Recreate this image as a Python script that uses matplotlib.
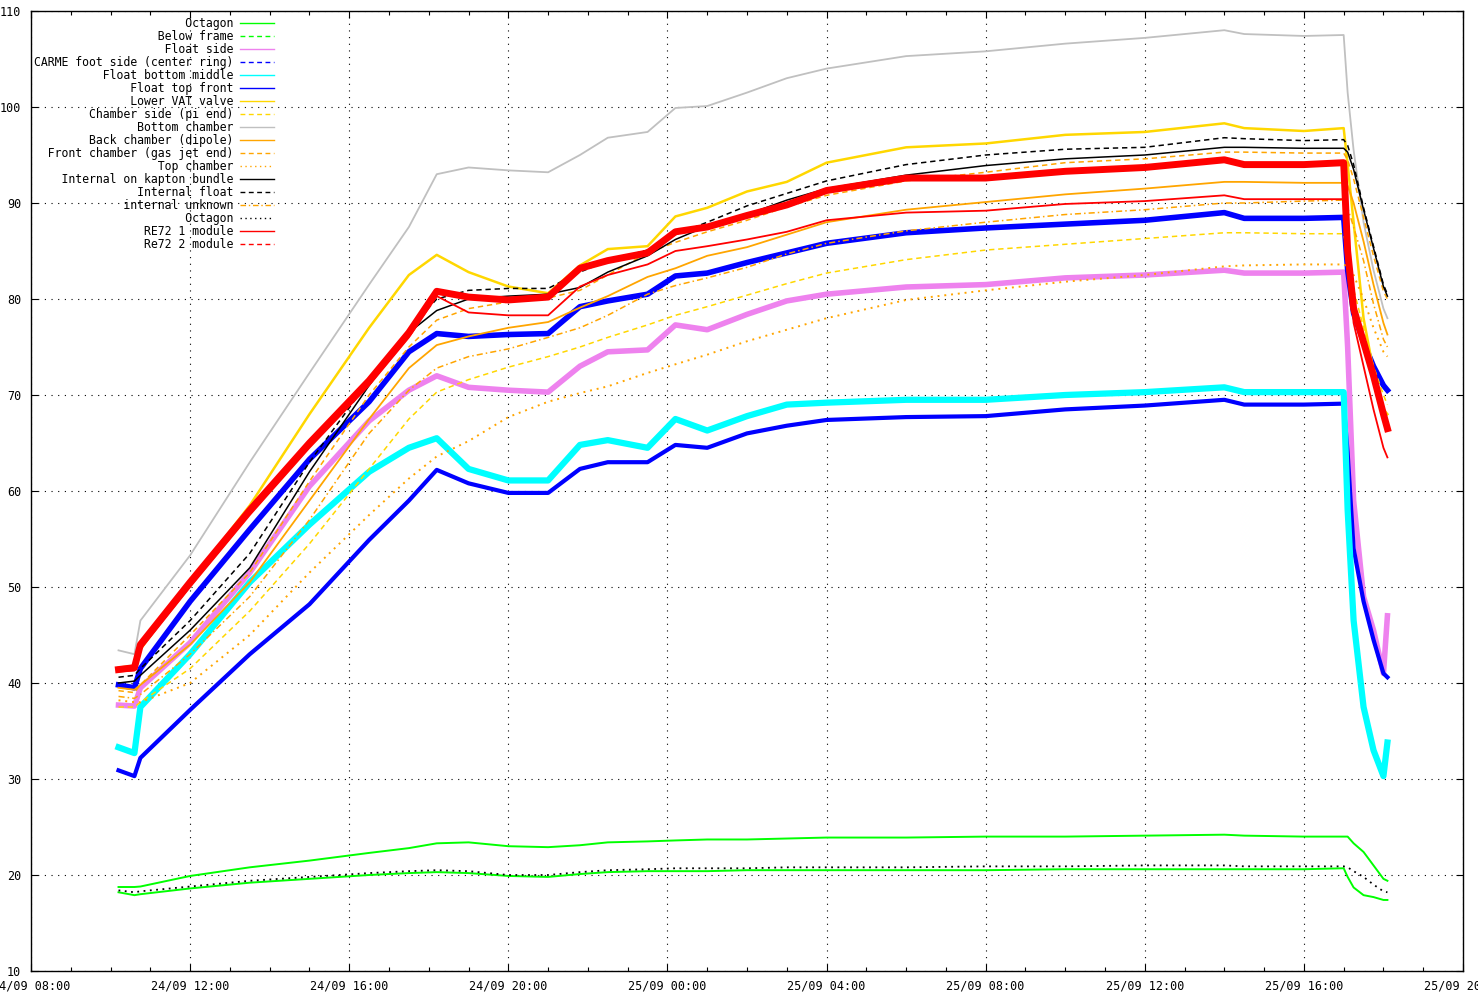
import matplotlib
matplotlib.use('Agg')
import matplotlib.pyplot as plt
import matplotlib.dates as mdates
from matplotlib.lines import Line2D
import pandas as pd

# hours after 24/09 08:00
hours = [2.2, 2.6, 2.75, 4.0, 5.5, 7.0, 8.5, 9.5, 10.2, 11.0, 12.0, 13.0, 13.8, 14.5, 15.5, 16.2, 17.0,
         18.0, 19.0, 20.0, 22.0, 24.0, 26.0, 28.0, 30.0, 30.5, 32.0, 33.0, 33.1, 33.25, 33.5, 33.75, 34.0, 34.1]

octagon = [18.75, 18.75, 18.8, 19.9, 20.8, 21.5, 22.3, 22.8, 23.3, 23.4, 23.0, 22.9, 23.1, 23.4, 23.5, 23.6, 23.7,
           23.7, 23.8, 23.9, 23.9, 24.0, 24.0, 24.1, 24.2, 24.1, 24.0, 24.0, 24.0, 23.3, 22.4, 21.0, 19.6, 19.4]
below_frame = [18.2, 17.9, 18.0, 18.6, 19.2, 19.6, 20.0, 20.2, 20.3, 20.2, 19.9, 19.8, 20.1, 20.3, 20.4, 20.4, 20.4,
               20.5, 20.5, 20.5, 20.5, 20.5, 20.6, 20.6, 20.6, 20.6, 20.6, 20.7, 19.8, 18.7, 17.9, 17.7, 17.4, 17.4]
float_side = [37.7, 37.6, 39.5, 44.2, 51.5, 60.5, 67.3, 70.5, 72.0, 70.8, 70.5, 70.3, 73.0, 74.5, 74.7, 77.3, 76.8,
              78.4, 79.8, 80.5, 81.25, 81.5, 82.2, 82.5, 83.0, 82.7, 82.7, 82.8, 75.0, 59.0, 49.0, 45.5, 41.0, 47.0]
carme_foot = [30.9, 30.3, 32.2, 37.2, 43.0, 48.2, 54.9, 59.0, 62.2, 60.8, 59.8, 59.8, 62.3, 63.0, 63.0, 64.8, 64.5,
              66.0, 66.8, 67.4, 67.7, 67.8, 68.5, 68.9, 69.5, 69.0, 69.0, 69.1, 64.0, 54.0, 48.5, 44.5, 41.0, 40.6]
float_bottom = [33.3, 32.7, 37.5, 43.0, 50.5, 56.5, 62.0, 64.5, 65.5, 62.3, 61.1, 61.1, 64.8, 65.3, 64.5, 67.5, 66.3,
                67.8, 69.0, 69.2, 69.5, 69.5, 70.0, 70.3, 70.8, 70.3, 70.3, 70.3, 58.0, 46.5, 37.5, 33.0, 30.3, 33.8]
float_top = [39.8, 39.5, 41.5, 48.5, 56.0, 63.3, 69.3, 74.5, 76.4, 76.1, 76.3, 76.4, 79.2, 79.8, 80.5, 82.4, 82.7,
             83.8, 84.8, 85.8, 86.9, 87.4, 87.8, 88.2, 89.0, 88.4, 88.4, 88.5, 83.0, 78.5, 75.5, 73.0, 71.0, 70.5]
lower_vat = [41.6, 41.8, 43.5, 50.5, 58.5, 68.0, 77.0, 82.5, 84.6, 82.8, 81.3, 80.6, 83.5, 85.2, 85.5, 88.6, 89.5,
             91.2, 92.2, 94.2, 95.8, 96.2, 97.1, 97.4, 98.3, 97.8, 97.5, 97.8, 94.0, 88.0, 78.0, 72.5, 68.5, 68.0]
chamber_side = [37.5, 37.5, 38.0, 41.5, 47.5, 54.5, 62.3, 67.5, 70.3, 71.6, 72.9, 74.0, 75.0, 76.0, 77.3, 78.3, 79.2,
                80.4, 81.6, 82.7, 84.1, 85.1, 85.7, 86.3, 86.9, 86.9, 86.8, 86.8, 84.5, 81.0, 77.0, 73.0, 70.0, 69.0]
bottom_chamber = [43.4, 43.0, 46.5, 53.3, 63.0, 72.3, 81.5, 87.5, 93.0, 93.7, 93.4, 93.2, 95.0, 96.8, 97.4, 99.9, 100.1,
                  101.5, 103.0, 104.0, 105.3, 105.8, 106.6, 107.2, 108.0, 107.6, 107.4, 107.5, 101.5, 95.5, 88.0, 83.0, 79.0, 78.0]
back_chamber = [39.5, 39.3, 39.8, 44.0, 50.5, 59.0, 67.5, 72.8, 75.2, 76.1, 77.0, 77.6, 79.1, 80.3, 82.3, 83.2, 84.5,
                85.4, 86.7, 88.0, 89.3, 90.1, 90.9, 91.5, 92.2, 92.2, 92.1, 92.1, 91.8, 90.0, 86.0, 81.5, 77.5, 76.3]
front_chamber = [39.2, 39.0, 39.8, 45.0, 51.5, 61.0, 70.0, 75.0, 77.8, 79.0, 79.7, 80.1, 80.9, 82.5, 84.8, 85.9, 87.0,
                 88.2, 89.6, 90.8, 92.3, 93.2, 94.2, 94.6, 95.3, 95.3, 95.2, 95.2, 94.5, 92.5, 88.5, 84.5, 80.8, 80.0]
top_chamber = [38.2, 38.0, 38.0, 40.0, 45.0, 51.5, 57.5, 61.3, 63.6, 65.2, 67.7, 69.3, 70.2, 70.9, 72.3, 73.2, 74.2,
               75.6, 76.8, 78.0, 79.9, 80.9, 81.8, 82.5, 83.4, 83.5, 83.6, 83.6, 83.4, 82.5, 80.0, 77.0, 74.5, 74.0]
kapton = [40.0, 40.2, 40.8, 45.5, 52.0, 62.0, 71.0, 76.5, 78.8, 80.0, 80.3, 80.5, 81.2, 82.8, 84.5, 86.2, 87.6,
          88.8, 90.3, 91.5, 92.9, 93.9, 94.6, 95.0, 95.8, 95.8, 95.7, 95.7, 95.3, 93.5, 89.3, 85.3, 81.3, 80.3]
internal_float = [40.6, 40.8, 41.5, 46.5, 53.5, 63.0, 71.5, 76.8, 80.0, 80.9, 81.1, 81.1, 82.8, 84.0, 85.1, 86.7, 88.0,
                  89.7, 91.0, 92.3, 94.0, 95.0, 95.6, 95.8, 96.8, 96.7, 96.5, 96.6, 96.0, 94.0, 89.5, 85.5, 81.5, 80.5]
internal_unknown = [38.6, 38.4, 38.8, 43.0, 49.0, 57.0, 66.0, 70.5, 72.8, 74.0, 74.8, 76.0, 77.0, 78.3, 80.5, 81.4, 82.2,
                    83.3, 84.7, 85.8, 87.1, 88.0, 88.8, 89.3, 90.0, 90.0, 90.2, 90.3, 89.5, 87.5, 84.0, 79.5, 75.8, 75.0]
octagon2 = [18.4, 18.2, 18.3, 18.8, 19.4, 19.8, 20.2, 20.4, 20.5, 20.4, 20.0, 20.0, 20.3, 20.5, 20.6, 20.7, 20.7,
            20.7, 20.8, 20.8, 20.8, 20.9, 20.9, 21.0, 21.0, 20.9, 20.9, 20.9, 20.8, 20.4, 19.8, 19.0, 18.3, 18.2]
re72_1 = [41.4, 41.6, 44.0, 50.5, 58.0, 65.0, 71.5, 76.5, 80.8, 80.2, 79.9, 80.2, 83.2, 84.0, 84.8, 87.0, 87.5,
          88.7, 89.8, 91.3, 92.6, 92.6, 93.3, 93.7, 94.5, 94.0, 94.0, 94.2, 85.0, 79.0, 75.5, 72.0, 68.0, 66.5]
re72_2 = [41.2, 41.3, 43.5, 50.0, 57.5, 64.5, 71.0, 76.0, 80.3, 78.6, 78.3, 78.3, 81.3, 82.5, 83.6, 85.0, 85.5,
          86.2, 87.0, 88.2, 89.0, 89.2, 89.9, 90.2, 90.8, 90.4, 90.4, 90.4, 84.0, 77.5, 73.0, 68.5, 64.5, 63.5]

labels = ['Octagon', 'Below frame', 'Float side', 'CARME foot side (center ring)', 'Float bottom middle',
          'Float top front', 'Lower VAT valve', 'Chamber side (pi end)', 'Bottom chamber', 'Back chamber (dipole)',
          'Front chamber (gas jet end)', 'Top chamber', 'Internal on kapton bundle', 'Internal float',
          'internal unknown', 'Octagon', 'RE72 1 module', 'Re72 2 module']

series = [octagon, below_frame, float_side, carme_foot, float_bottom, float_top, lower_vat, chamber_side,
          bottom_chamber, back_chamber, front_chamber, top_chamber, kapton, internal_float, internal_unknown,
          octagon2, re72_1, re72_2]

dash = (0, (3.5, 2.5))
dot = (0, (1, 2.5))
dashdot = (0, (4, 2, 1, 2))
colors = ['#00ff00', '#00ff00', '#ee82ee', '#0000ff', '#00ffff', '#0000ff', '#ffd700', '#ffd700', '#c0c0c0',
          '#ffa500', '#ffa500', '#ffa500', 'black', 'black', '#ffa500', 'black', '#ff0000', '#ff0000']
# style in the legend / style of the drawn curve (noisy series drawn as thick bands)
legend_ls = ['-', dash, '-', dash, '-', '-', '-', dash, '-', '-', dash, dot, '-', dash, dashdot, dot, '-', dash]
plot_ls = ['-', '-', '-', '-', '-', '-', '-', dash, '-', '-', dash, dot, '-', dash, dashdot, dot, '-', '-']
plot_lw = [1.4, 1.4, 4, 3, 4.5, 4, 1.8, 1.1, 1.3, 1.3, 1.1, 1.4, 1.1, 1.1, 1.1, 1.3, 5, 1.3]

start = pd.Timestamp('2014-09-24 08:00')
times = start + pd.to_timedelta(hours, unit='h')

fig = plt.figure(figsize=(14.78, 10.01), dpi=100)
ax = fig.add_axes([31 / 1478, 30 / 1001, 1432 / 1478, 960 / 1001])

for vals, c, ls, lw in zip(series, colors, plot_ls, plot_lw):
    ax.plot(times, vals, color=c, linestyle=ls, linewidth=lw)

ax.set_xlim(start, start + pd.Timedelta(hours=36))
ax.set_ylim(10, 110)
ax.set_yticks(range(10, 111, 10))
ax.xaxis.set_major_locator(mdates.HourLocator(byhour=[0, 4, 8, 12, 16, 20]))
ax.xaxis.set_minor_locator(mdates.HourLocator())
ax.xaxis.set_major_formatter(mdates.DateFormatter('%d/%m %H:%M'))

ax.grid(True, which='major', color='black', linestyle=(0, (1, 5)), linewidth=0.8)
ax.tick_params(which='both', direction='in', top=True, right=True, labelsize=8.5, width=0.8)
ax.tick_params(which='major', length=5)
ax.tick_params(which='minor', length=3)
ax.tick_params(axis='x', pad=6)
ax.tick_params(axis='y', pad=7)
for lab in ax.get_xticklabels() + ax.get_yticklabels():
    lab.set_family('DejaVu Sans Mono')
for s in ax.spines.values():
    s.set_linewidth(1)

# gnuplot style key: right aligned text, sample to the right
width = max(len(l) for l in labels)
handles = [Line2D([], [], color=c, linestyle=ls, linewidth=1) for c, ls in zip(colors, legend_ls)]
ax.legend(handles, [l.rjust(width) for l in labels], loc='upper left', bbox_to_anchor=(0.002, 0.994),
          frameon=False, markerfirst=False, prop={'family': 'DejaVu Sans Mono', 'size': 8.3},
          labelspacing=0.0, handlelength=2.9, handletextpad=0.6, borderpad=0, borderaxespad=0)

plt.savefig('out.png', dpi=100)
